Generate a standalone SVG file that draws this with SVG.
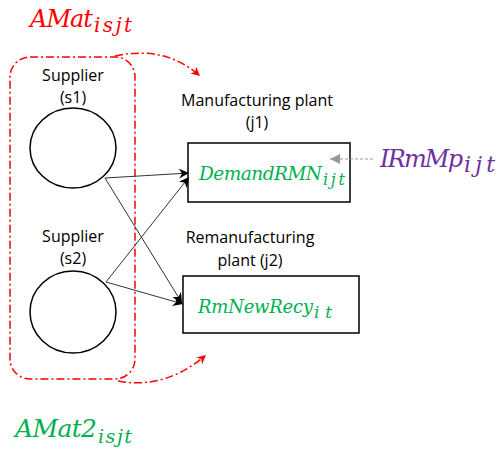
<svg xmlns="http://www.w3.org/2000/svg" width="499" height="452" viewBox="0 0 499 452">
<style>
.lbl{font-family:"Open Sans","Liberation Sans",sans-serif;font-size:16px;fill:#000;text-anchor:middle}
.m{font-family:"DejaVu Serif","Liberation Serif",serif;font-style:italic}
.node{fill:#fff;stroke:#000;stroke-width:1.5}
.edge{fill:none;stroke:#333;stroke-width:1}
.red{fill:none;stroke:#ff0000;stroke-width:1.5;stroke-dasharray:8 3 2 3}
</style>
<defs>
<marker id="ah" viewBox="0 0 10 10" refX="10" refY="5" markerWidth="10" markerHeight="10" markerUnits="userSpaceOnUse" orient="auto">
<path d="M0,0 L10,5 L0,10 L3,5 Z" fill="#000"/>
</marker>
<marker id="ahr" viewBox="0 0 10 10" refX="10" refY="5" markerWidth="9" markerHeight="9" markerUnits="userSpaceOnUse" orient="auto">
<path d="M0,0 L10,5 L0,10 L3,5 Z" fill="#ff0000"/>
</marker>
<marker id="ahg" viewBox="0 0 10 10" refX="10" refY="5" markerWidth="10" markerHeight="10" markerUnits="userSpaceOnUse" orient="auto">
<path d="M0,0 L10,5 L0,10 Z" fill="#999"/>
</marker>
</defs>

<g id="group-box">
<rect x="10" y="57" width="125" height="322" rx="20" ry="20" class="red"/>
</g>

<g id="label-amat">
<text class="m" x="30" y="27" font-size="24" fill="#ff0000" textLength="63" lengthAdjust="spacing">AMat</text>
<text class="m" x="94" y="32" font-size="20" fill="#ff0000" textLength="38" lengthAdjust="spacing">isjt</text>
</g>

<g id="label-amat2">
<text class="m" x="15" y="437" font-size="25" fill="#00b050" textLength="82" lengthAdjust="spacing">AMat2</text>
<text class="m" x="98" y="443" font-size="19" fill="#00b050" textLength="34" lengthAdjust="spacing">isjt</text>
</g>

<g id="s1">
<ellipse cx="73" cy="148" rx="43" ry="40" class="node"/>
<text class="lbl" x="73" y="81">Supplier</text>
<text class="lbl" x="73" y="103">(s1)</text>
</g>

<g id="s2">
<ellipse cx="73" cy="312" rx="43" ry="41" class="node"/>
<text class="lbl" x="73" y="242">Supplier</text>
<text class="lbl" x="73" y="264">(s2)</text>
</g>

<g id="j1">
<rect x="188" y="143" width="162" height="59" class="node"/>
<text class="lbl" x="257" y="106">Manufacturing plant</text>
<text class="lbl" x="257" y="128">(j1)</text>
<text class="m" x="199" y="180" font-size="18.5" fill="#00b050" textLength="123" lengthAdjust="spacing">DemandRMN</text>
<text class="m" x="323" y="185" font-size="16" fill="#00b050" textLength="22" lengthAdjust="spacing">ijt</text>
</g>

<g id="j2">
<rect x="183" y="276" width="176" height="57" class="node"/>
<text class="lbl" x="250" y="243">Remanufacturing</text>
<text class="lbl" x="250" y="266">plant (j2)</text>
<text class="m" x="198" y="313" font-size="18" fill="#00b050" textLength="115" lengthAdjust="spacing">RmNewRecy</text>
<text class="m" x="314" y="318" font-size="17" fill="#00b050" textLength="18" lengthAdjust="spacing">it</text>
</g>

<g id="label-irmmp">
<text class="m" x="380" y="167" font-size="24" fill="#7030a0" textLength="83" lengthAdjust="spacing">IRmMp</text>
<text class="m" x="464" y="172" font-size="22" fill="#7030a0" textLength="31" lengthAdjust="spacing">ijt</text>
</g>

<g id="connectors">
<line x1="105" y1="178" x2="189" y2="173" class="edge" marker-end="url(#ah)"/>
<line x1="105" y1="178" x2="182" y2="303" class="edge" marker-end="url(#ah)"/>
<line x1="106" y1="282" x2="189" y2="177" class="edge" marker-end="url(#ah)"/>
<line x1="106" y1="282" x2="183" y2="304" class="edge" marker-end="url(#ah)"/>
<path d="M 115 56 Q 165 45 200 76" class="red" marker-end="url(#ahr)"/>
<path d="M 118 381 Q 165 390 206 355" class="red" marker-end="url(#ahr)"/>
<line x1="373" y1="159" x2="330" y2="159" stroke="#999" stroke-width="1.2" stroke-dasharray="3 2" marker-end="url(#ahg)"/>
</g>
</svg>
